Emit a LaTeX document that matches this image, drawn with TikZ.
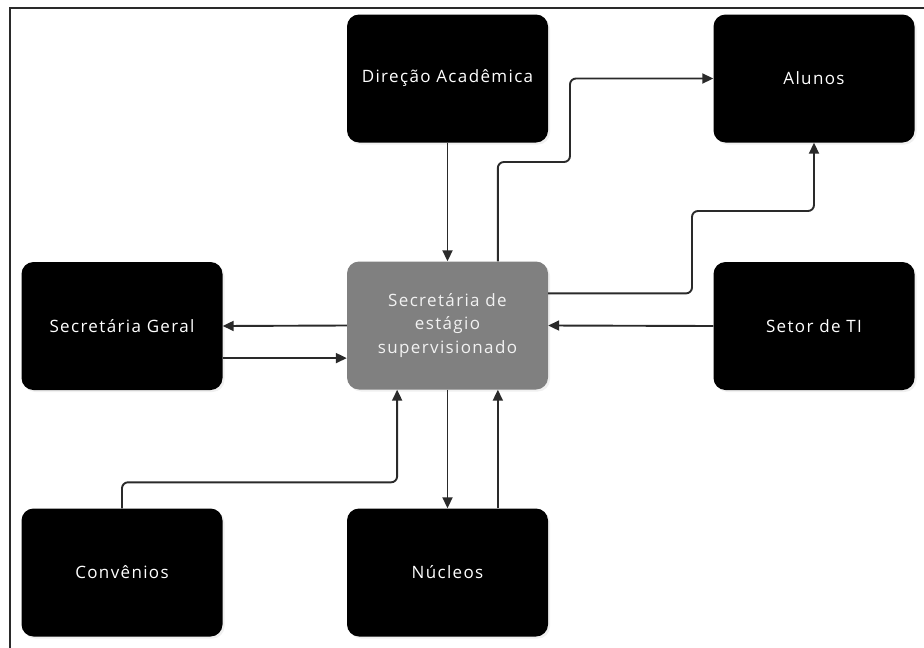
\documentclass[tikz,border=0pt]{standalone}
\usepackage{fontspec}
\setmainfont{Open Sans}[LetterSpace=8]
\usetikzlibrary{arrows.meta,calc,shadows}
\definecolor{midgray}{HTML}{808080}
\definecolor{linegray}{HTML}{2A2A2A}
\definecolor{boxtext}{HTML}{F2F2F2}
\tikzset{
  unit/.style={rectangle, rounded corners=12pt, minimum width=201pt, minimum height=128pt,
    fill=black, text=white, align=center, font=\fontsize{17}{23.5}\selectfont,
    drop shadow={opacity=0.12, shadow xshift=2pt, shadow yshift=-2pt}},
  hub/.style={unit, fill=midgray, text=boxtext},
  flow/.style={draw=linegray, line width=1.9pt, rounded corners=6pt,
    -{Triangle[length=11pt,width=10pt]}},
}
\begin{document}
\begin{tikzpicture}[x=1pt,y=-1pt]
  \useasboundingbox (0,0) rectangle (924,648);
  % outer frame (top and left edges)
  \draw[linegray, line width=2pt] (924,8) -- (10,8) -- (10,648);

  % units
  \node[unit] (da)  at (447.5,78.5)  {Direção Acadêmica};
  \node[unit] (al)  at (814,78.5)    {Alunos};
  \node[unit] (sg)  at (122,326)     {Secretária Geral};
  \node[hub]  (ses) at (447.5,325.5) {Secretária de\\estágio\\supervisionado};
  \node[unit] (ti)  at (814,326)     {Setor de TI};
  \node[unit] (cv)  at (122,572.5)   {Convênios};
  \node[unit] (nu)  at (447.5,572.5) {Núcleos};

  % attachment points on the box sides
  \coordinate (sesTop)  at ($(ses.north west)!0.75!(ses.north east)$);
  \coordinate (sesRgt)  at ($(ses.north east)!0.25!(ses.south east)$);
  \coordinate (sesBotL) at ($(ses.south west)!0.25!(ses.south east)$);
  \coordinate (sgOut)   at ($(sg.north east)!0.75!(sg.south east)$);
  \coordinate (nuUp)    at ($(nu.north west)!0.75!(nu.north east)$);

  % connectors
  \draw[flow] (da.south) -- (ses.north);
  \draw[flow] (sesTop) |- (570,162) |- (al.west);
  \draw[flow] (sesRgt) -| (692,211) -| (al.south);
  \draw[flow] (ti.west) -- (ses.east);
  \draw[flow] (ses.west) -- (sg.east);
  \draw[flow] (sgOut) -- (sgOut -| ses.west);
  \draw[flow] (ses.south) -- (nu.north);
  \draw[flow] (nuUp) -- (nuUp |- ses.south);
  \draw[flow] (cv.north) -- ++(0,-26) -| (sesBotL);
\end{tikzpicture}
\end{document}
